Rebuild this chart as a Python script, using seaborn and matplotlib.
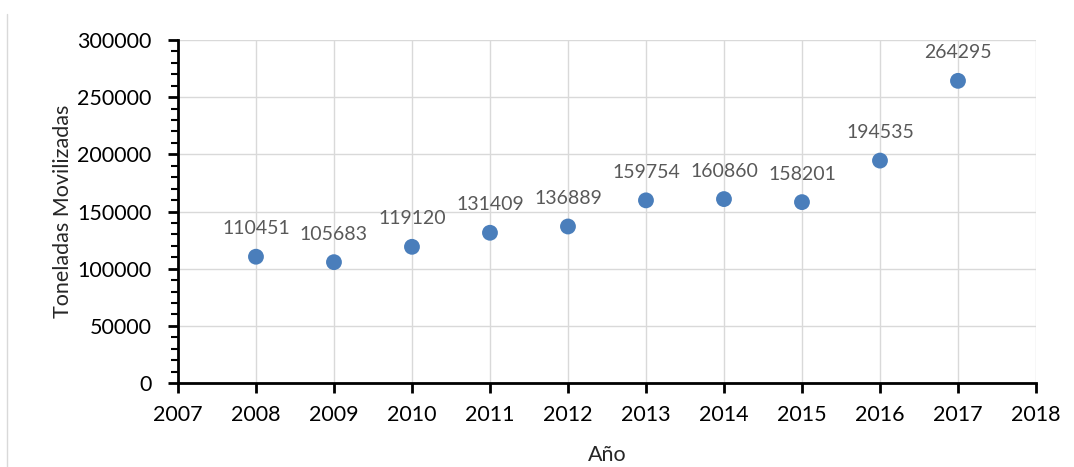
import matplotlib
matplotlib.use("Agg")
import matplotlib.pyplot as plt
from matplotlib.ticker import MultipleLocator
import seaborn as sns
import pandas as pd

years = [2008, 2009, 2010, 2011, 2012, 2013, 2014, 2015, 2016, 2017]
toneladas = [110451, 105683, 119120, 131409, 136889, 159754, 160860, 158201, 194535, 264295]
x_ticks = [2007, 2008, 2009, 2010, 2011, 2012, 2013, 2014, 2015, 2016, 2017, 2018]
y_ticks = [0, 50000, 100000, 150000, 200000, 250000, 300000]

df = pd.DataFrame({"Año": years, "Toneladas": toneladas})

sns.set_theme(style="white")
plt.rcParams["font.family"] = ["Lato", "DejaVu Sans"]

fig = plt.figure(figsize=(10.74, 4.67), dpi=100)
ax = fig.add_axes([0.1657, 0.1799, 0.7989, 0.7344])

sns.scatterplot(data=df, x="Año", y="Toneladas", ax=ax, s=130,
                color="#4a7ebb", edgecolor="none", zorder=3)

for x, y in zip(years, toneladas):
    ax.annotate(str(y), (x, y), xytext=(0, 14), textcoords="offset points",
                ha="center", va="bottom", fontsize=14, color="#595959")

ax.set_xlim(x_ticks[0], x_ticks[-1])
ax.set_ylim(y_ticks[0], y_ticks[-1])
ax.set_xticks(x_ticks)
ax.set_yticks(y_ticks)
ax.yaxis.set_minor_locator(MultipleLocator(10000))
ax.grid(True, which="major", color="#d9d9d9", linewidth=1)
ax.set_axisbelow(True)

for side in ("top", "right"):
    ax.spines[side].set_visible(False)
for side in ("left", "bottom"):
    ax.spines[side].set_color("black")
    ax.spines[side].set_linewidth(2)

ax.tick_params(axis="both", which="major", direction="out", length=7, width=2,
               color="black", labelsize=15.5, labelcolor="black",
               bottom=True, left=True)
ax.tick_params(axis="y", which="minor", direction="out", length=5, width=1.5,
               color="black", left=True)
ax.tick_params(axis="x", pad=9)
ax.tick_params(axis="y", pad=12)

ax.set_xlabel("Año", fontsize=15.5, color="#262626", labelpad=14)
ax.set_ylabel("Toneladas Movilizadas", fontsize=15.5, color="#262626", labelpad=3)

fig.add_artist(plt.Line2D([0.0065, 0.0065], [0.0, 0.97], transform=fig.transFigure,
                          color="#d9d9d9", linewidth=1))

fig.savefig("out.png", dpi=100)
